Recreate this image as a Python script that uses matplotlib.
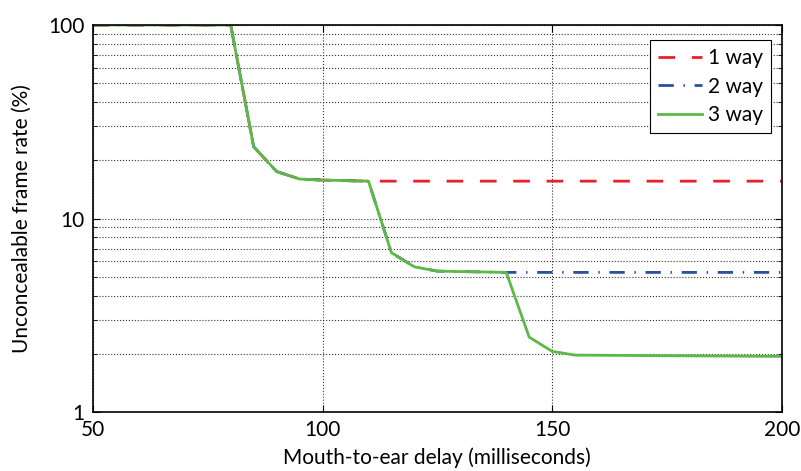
import matplotlib
matplotlib.use('Agg')
import matplotlib.pyplot as plt
from matplotlib.ticker import LogLocator, NullFormatter, FixedLocator

plt.rcParams['font.family'] = ['Lato', 'DejaVu Sans']

# delay (ms) and unconcealable frame rate (%)
delay_1 = [50, 80, 85, 90, 95, 100, 110, 200]
rate_1 = [100, 100, 23.5, 17.5, 16.0, 15.8, 15.6, 15.6]

delay_2 = [50, 80, 85, 90, 95, 100, 110, 115, 120, 125, 140, 200]
rate_2 = [100, 100, 23.5, 17.5, 16.0, 15.8, 15.6, 6.66, 5.63, 5.35, 5.27, 5.27]

delay_3 = [50, 80, 85, 90, 95, 100, 110, 115, 120, 125, 140, 145, 150, 155, 200]
rate_3 = [100, 100, 23.5, 17.5, 16.0, 15.8, 15.6, 6.66, 5.63, 5.35, 5.27, 2.44, 2.06, 1.97, 1.94]

x_ticks = [50, 100, 150, 200]
y_ticks = [1, 10, 100]
y_tick_labels = ['1', '10', '100']

fig = plt.figure(figsize=(8.01, 4.71), dpi=100)
ax = fig.add_axes([0.116, 0.125, 0.86, 0.822])

ax.plot(delay_1, rate_1, color='#e8212b', lw=2, dashes=(6, 6), label='1 way')
ax.plot(delay_2, rate_2, color='#2b4f9e', lw=2, dashes=(5.5, 3.5, 0.5, 3.5), label='2 way')
ax.plot(delay_3, rate_3, color='#5cb947', lw=2, label='3 way')

ax.set_yscale('log')
ax.set_xlim(50, 200)
ax.set_ylim(1, 100)
ax.xaxis.set_major_locator(FixedLocator(x_ticks))
ax.set_yticks(y_ticks)
ax.set_yticklabels(y_tick_labels)
ax.yaxis.set_minor_locator(LogLocator(base=10, subs=range(2, 10)))
ax.yaxis.set_minor_formatter(NullFormatter())

# dotted grid
ax.grid(True, which='major', axis='x', linestyle=':', color='#333333', lw=0.8)
ax.grid(True, which='both', axis='y', linestyle=':', color='#333333', lw=0.8)

ax.tick_params(which='both', direction='in', top=True, right=True, labelsize=15, pad=6)
ax.tick_params(which='major', length=5)
ax.tick_params(which='minor', length=3)
for s in ax.spines.values():
    s.set_linewidth(1.2)

ax.set_xlabel('Mouth-to-ear delay (milliseconds)', fontsize=15, labelpad=5)
ax.set_ylabel('Unconcealable frame rate (%)', fontsize=15, labelpad=12)

leg = ax.legend(loc='upper right', fontsize=15, fancybox=False, edgecolor='black',
                framealpha=1, handlelength=2.1, handletextpad=0.3, borderpad=0.4,
                labelspacing=0.4, borderaxespad=0, bbox_to_anchor=(0.985, 0.961))
leg.get_frame().set_linewidth(0.8)

fig.savefig('out.png', dpi=100)
